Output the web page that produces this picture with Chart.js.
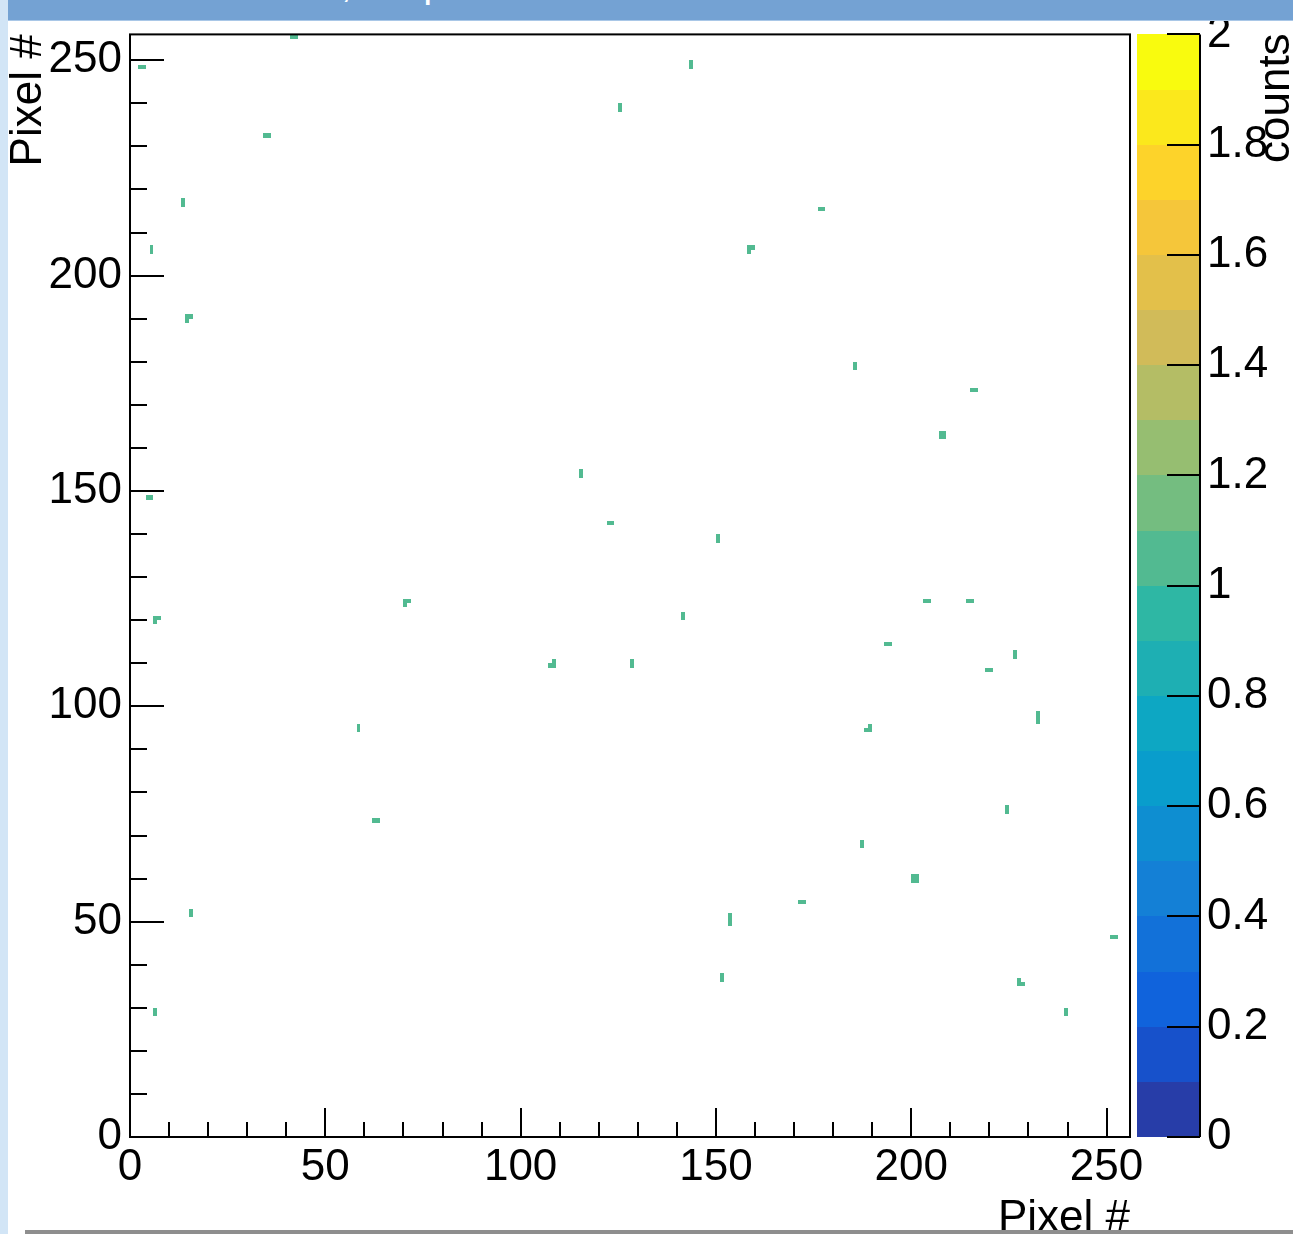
<!DOCTYPE html>
<html>
<head>
<meta charset="utf-8">
<script src="https://cdn.jsdelivr.net/npm/chart.js@4.4.1/dist/chart.umd.min.js"></script>
<style>
  html, body { margin: 0; padding: 0; background: #fff; overflow: hidden; }
  #wrap { position: relative; width: 1293px; height: 1234px; }
  #hitmap { position: absolute; left: 0; top: 0; }
  #banner { position: absolute; left: 8px; right: 0; top: 0; height: 20px; background: #74a2d3; border-bottom: 1px solid #a9c7e7; overflow: hidden; }
  #banner span { position: absolute; left: 264px; top: -37px; font: 40px/40px 'Liberation Sans', Arial, sans-serif; color: #fff; white-space: nowrap; }
  #leftstrip { position: absolute; left: 0; top: 0; width: 8px; height: 1234px; background: #d2e5f6; }
  #bottombar { position: absolute; left: 25px; right: 0; top: 1230px; height: 4px; background: #8e8e8e; }
</style>
</head>
<body>
<div id="wrap">
  <canvas id="hitmap" width="1293" height="1234"></canvas>
  <div id="banner"><span>Hits, Chip 0</span></div>
  <div id="leftstrip"></div>
  <div id="bottombar"></div>
</div>
<script>
// 256 x 256 pixel matrix, only the fired bins are listed
const nBins = 256;
const binX = [
  41, 42, 2, 3, 34, 35, 13, 13, 5, 5, 14, 15, 14,
  143, 143, 125, 125, 158, 159, 158, 176, 177, 185, 185, 215, 216,
  4, 5, 6, 7, 6, 70, 71, 70, 58, 58,
  115, 115, 122, 123, 150, 150, 141, 141, 107, 108, 108, 128, 128,
  207, 208, 207, 208, 203, 204, 214, 215, 193, 194, 226, 226, 219, 220,
  232, 232, 232, 188, 189, 189,
  62, 63, 15, 15, 6, 6,
  153, 153, 153, 151, 151,
  224, 224, 187, 187, 200, 201, 200, 201, 171, 172, 251, 252, 227, 228, 227, 239, 239
];
const binY = [
  255, 255, 248, 248, 232, 232, 216, 217, 205, 206, 190, 190, 189,
  248, 249, 238, 239, 206, 206, 205, 215, 215, 178, 179, 173, 173,
  148, 148, 120, 120, 119, 124, 124, 123, 94, 95,
  153, 154, 142, 142, 138, 139, 120, 121, 109, 109, 110, 109, 110,
  162, 162, 163, 163, 124, 124, 124, 124, 114, 114, 111, 112, 108, 108,
  96, 97, 98, 94, 94, 95,
  73, 73, 51, 52, 28, 29,
  49, 50, 51, 36, 37,
  75, 76, 67, 68, 59, 59, 60, 60, 54, 54, 46, 46, 35, 35, 36, 28, 29
];
const binCount = binX.map(() => 1);

const xLabels = [0, 50, 100, 150, 200, 250];
const yLabels = [0, 50, 100, 150, 200, 250];
const zMin = 0;
const zMax = 2;
const nContours = 20;

// ROOT kBird palette stops
const birdStops = [0, 0.125, 0.25, 0.375, 0.5, 0.625, 0.75, 0.875, 1];
const birdR = [0.2082, 0.0592, 0.0780, 0.0232, 0.1802, 0.5301, 0.8186, 0.9956, 0.9764];
const birdG = [0.1664, 0.3599, 0.5041, 0.6419, 0.7178, 0.7492, 0.7328, 0.7862, 0.9832];
const birdB = [0.5293, 0.8684, 0.8385, 0.7914, 0.6425, 0.4662, 0.3499, 0.1968, 0.0539];

function birdColor(f) {
  let k = 0;
  while (k < birdStops.length - 2 && f > birdStops[k + 1]) k++;
  const t = (f - birdStops[k]) / (birdStops[k + 1] - birdStops[k]);
  const c = arr => Math.round(255 * (arr[k] + (arr[k + 1] - arr[k]) * t));
  return `rgb(${c(birdR)},${c(birdG)},${c(birdB)})`;
}
function bandColor(i) {
  const idx = Math.floor((i + 0.99) * 255 / nContours);
  return birdColor(Math.min(idx, 254) / 254);
}
function colorForValue(v) {
  let i = Math.floor((v - zMin) / (zMax - zMin) * nContours);
  i = Math.max(0, Math.min(nContours - 1, i));
  return bandColor(i);
}

const FONT = "'Liberation Sans', Arial, Helvetica, sans-serif";
Chart.defaults.font.family = FONT;
Chart.defaults.font.size = 44;
Chart.defaults.color = '#000';

const rootStyle = {
  id: 'rootStyle',
  beforeDatasetsDraw(chart) {
    const { ctx, chartArea: a, scales: { x, y } } = chart;
    ctx.save();
    ctx.beginPath();
    ctx.rect(a.left, a.top, a.right - a.left, a.bottom - a.top);
    ctx.clip();
    binX.forEach((bx, i) => {
      const x0 = Math.round(x.getPixelForValue(bx));
      const x1 = Math.round(x.getPixelForValue(bx + 1));
      const y0 = Math.round(y.getPixelForValue(binY[i] + 1));
      const y1 = Math.round(y.getPixelForValue(binY[i]));
      ctx.fillStyle = colorForValue(binCount[i]);
      ctx.fillRect(x0, y0, x1 - x0, y1 - y0);
    });
    ctx.restore();
  },
  afterDraw(chart) {
    const { ctx, chartArea: a, scales: { x, y, z } } = chart;
    ctx.save();
    ctx.strokeStyle = '#000';
    ctx.lineWidth = 2;

    // ticks pointing into the frame
    ctx.beginPath();
    x.ticks.forEach(t => {
      const px = Math.round(x.getPixelForValue(t.value));
      const len = xLabels.includes(t.value) ? 29 : 15;
      ctx.moveTo(px, a.bottom);
      ctx.lineTo(px, a.bottom - len);
    });
    y.ticks.forEach(t => {
      const py = Math.round(y.getPixelForValue(t.value));
      const len = yLabels.includes(t.value) ? 34 : 17;
      ctx.moveTo(a.left, py);
      ctx.lineTo(a.left + len, py);
    });
    ctx.stroke();
    ctx.strokeRect(a.left, a.top, a.right - a.left, a.bottom - a.top);

    // colour palette
    const cbLeft = a.right + 7;
    const cbRight = a.right + 70;
    for (let i = 0; i < nContours; i++) {
      const v0 = zMin + (zMax - zMin) * i / nContours;
      const v1 = zMin + (zMax - zMin) * (i + 1) / nContours;
      const top = Math.round(z.getPixelForValue(v1));
      const bot = Math.round(z.getPixelForValue(v0));
      ctx.fillStyle = bandColor(i);
      ctx.fillRect(cbLeft, top, cbRight - cbLeft, bot - top);
    }
    ctx.beginPath();
    ctx.moveTo(cbRight, z.top);
    ctx.lineTo(cbRight, z.bottom);
    z.ticks.forEach(t => {
      const py = Math.round(z.getPixelForValue(t.value));
      ctx.moveTo(cbRight - 33, py);
      ctx.lineTo(cbRight, py);
    });
    ctx.stroke();

    // z axis title
    ctx.translate(1289, a.top - 1);
    ctx.rotate(-Math.PI / 2);
    ctx.font = '44px ' + FONT;
    ctx.fillStyle = '#000';
    ctx.textAlign = 'right';
    ctx.textBaseline = 'alphabetic';
    ctx.fillText('counts', 0, 0);
    ctx.restore();
  }
};

new Chart(document.getElementById('hitmap'), {
  type: 'scatter',
  data: {
    datasets: [{
      label: 'hits',
      data: binX.map((bx, i) => ({ x: bx + 0.5, y: binY[i] + 0.5 })),
      pointRadius: 0,
      pointHoverRadius: 0
    }]
  },
  options: {
    responsive: false,
    animation: false,
    layout: { padding: { top: 34, left: 0, right: 0, bottom: 0 } },
    plugins: { legend: { display: false }, tooltip: { enabled: false } },
    scales: {
      x: {
        type: 'linear', position: 'bottom', min: 0, max: nBins,
        grid: { display: false, drawTicks: false },
        border: { display: false },
        ticks: {
          stepSize: 10, autoSkip: false, includeBounds: false, maxRotation: 0, padding: 4,
          callback: v => xLabels.includes(v) ? String(v) : ''
        },
        title: { display: true, text: 'Pixel #', align: 'end', padding: { top: 0, bottom: -11 } },
        afterFit: s => { s.height = 97; }
      },
      y: {
        type: 'linear', position: 'left', min: 0, max: nBins,
        grid: { display: false, drawTicks: false },
        border: { display: false },
        ticks: {
          stepSize: 10, autoSkip: false, includeBounds: false, padding: 8,
          callback: v => yLabels.includes(v) ? String(v) : ''
        },
        title: { display: true, text: 'Pixel #', align: 'end', padding: { top: 2, bottom: 0 } },
        afterFit: s => { s.width = 130; }
      },
      z: {
        type: 'linear', position: 'right', min: zMin, max: zMax,
        // invisible tick marks only push the labels past the palette
        grid: { display: true, drawOnChartArea: false, drawTicks: true, tickLength: 69, color: 'rgba(0,0,0,0)' },
        border: { display: false },
        ticks: {
          stepSize: 0.2, autoSkip: false, padding: 8,
          callback: v => String(+v.toFixed(1))
        },
        afterFit: s => { s.width = 163; }
      }
    }
  },
  plugins: [rootStyle]
});
</script>
</body>
</html>
